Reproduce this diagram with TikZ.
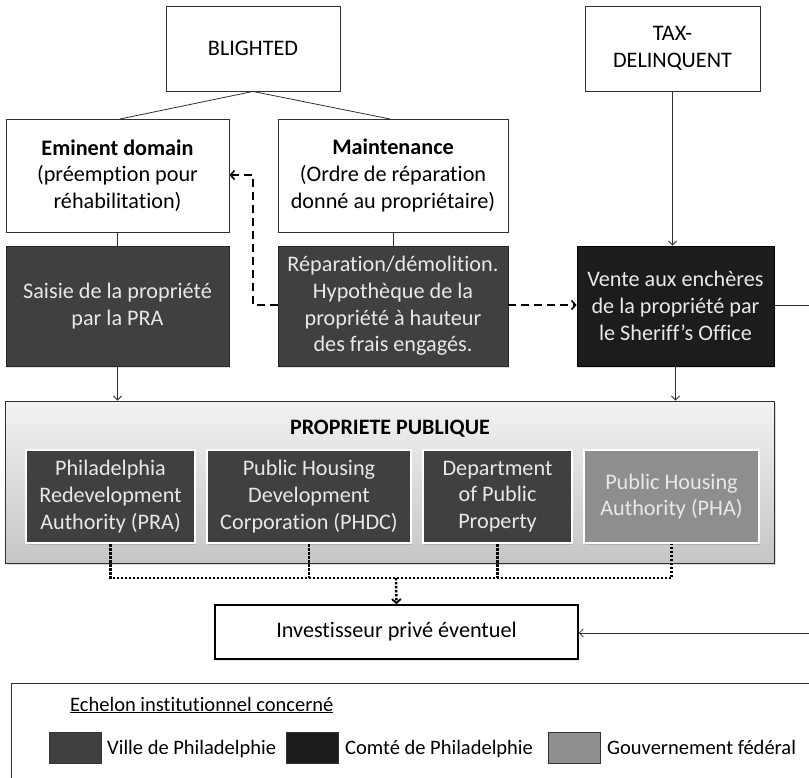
\documentclass[tikz,border=0pt]{standalone}
\usepackage{fontspec}
\setmainfont{Carlito}[Ligatures=NoCommon]
\usetikzlibrary{arrows.meta,shadows}
\definecolor{cityc}{HTML}{404040}
\definecolor{countyc}{HTML}{1C1C1C}
\definecolor{fedc}{HTML}{8E8E8E}
\definecolor{lightt}{HTML}{E8E8E8}
\definecolor{linec}{HTML}{303030}
\tikzset{
  base/.style={rectangle, align=center, inner sep=2pt, font=\fontsize{22.2}{26.7}\selectfont},
  whitebox/.style={base, draw=linec, line width=0.9pt, fill=white, text=black,
    drop shadow={opacity=0.25, shadow xshift=1.2pt, shadow yshift=-1.5pt}},
  citybox/.style={base, draw=black!85, line width=0.9pt, fill=cityc, text=lightt,
    drop shadow={opacity=0.25, shadow xshift=1.2pt, shadow yshift=-1.5pt}},
  countybox/.style={base, draw=black, line width=0.9pt, fill=countyc, text=lightt,
    drop shadow={opacity=0.25, shadow xshift=1.2pt, shadow yshift=-1.5pt}},
  innerbox/.style={base, draw=white, line width=2.2pt, text=lightt,
    drop shadow={opacity=0.35, shadow xshift=1.2pt, shadow yshift=-1.5pt}},
  thin/.style={draw=linec, line width=0.8pt},
  thinarrow/.style={thin, -{Straight Barb[length=4pt,width=8pt]}},
  dasharrow/.style={draw=black, line width=2pt, dash pattern=on 8pt off 5pt,
    -{Straight Barb[length=4pt,width=9pt,line width=1.6pt]}},
  dotline/.style={draw=black, line width=2.4pt, dash pattern=on 2.4pt off 1.6pt},
  swatch/.style={rectangle, draw=black!80, line width=0.8pt, minimum width=52pt, minimum height=31pt, inner sep=0pt},
  legtext/.style={anchor=base west, inner sep=0pt, font=\fontsize{20.5}{24}\selectfont, text=black}
}
\begin{document}
\begin{tikzpicture}[x=1pt,y=-1pt]
\useasboundingbox (0,0) rectangle (809,778);
\clip (0,0) rectangle (809,778);
\fill[white] (0,0) rectangle (809,778);

% top level
\node[whitebox, minimum width=174pt, minimum height=85pt] (blighted) at (253,48.5) {BLIGHTED};
\node[whitebox, minimum width=175pt, minimum height=85pt] (tax) at (672.5,48.5) {TAX-\\DELINQUENT};

% second level
\node[whitebox, minimum width=223pt, minimum height=113pt] (eminent) at (117.5,175.5)
  {\textbf{Eminent domain}\\(préemption pour\\réhabilitation)};
\node[whitebox, minimum width=230pt, minimum height=113pt] (maint) at (393,175.5)
  {\textbf{Maintenance}\\(Ordre de réparation\\donné au propriétaire)};

% third level
\node[citybox, minimum width=223pt, minimum height=120pt] (saisie) at (117.5,306)
  {Saisie de la propriété\\par la PRA};
\node[citybox, minimum width=230pt, minimum height=120pt] (repar) at (393,306)
  {Réparation/démolition.\\Hypothèque de la\\propriété à hauteur\\des frais engagés.};
\node[countybox, minimum width=197pt, minimum height=120pt] (vente) at (675.5,306)
  {Vente aux enchères\\de la propriété par\\le Sheriff’s Office};

% public property container
\node[rectangle, draw=linec, line width=0.9pt, top color=gray!10, bottom color=gray!45,
  minimum width=769pt, minimum height=162pt, inner sep=0pt,
  drop shadow={opacity=0.3, shadow xshift=1.5pt, shadow yshift=-2pt}] (pp) at (389.5,482) {};
\node[base, font=\bfseries\fontsize{22}{26}\selectfont, inner sep=0pt] (pptitle) at (390,429) {PROPRIETE PUBLIQUE};

\node[innerbox, fill=cityc, minimum width=169pt, minimum height=93pt] (pra) at (110.5,496.5)
  {Philadelphia\\Redevelopment\\Authority (PRA)};
\node[innerbox, fill=cityc, minimum width=204pt, minimum height=93pt] (phdc) at (309,496.5)
  {Public Housing\\Development\\Corporation (PHDC)};
\node[innerbox, fill=cityc, minimum width=149pt, minimum height=93pt] (dpp) at (497.5,496.5)
  {Department\\of Public\\Property};
\node[innerbox, fill=fedc, minimum width=175pt, minimum height=93pt] (pha) at (671.5,496.5)
  {Public Housing\\Authority (PHA)};

% investor
\node[base, draw=black, line width=1.6pt, fill=white, minimum width=363pt, minimum height=54pt,
  drop shadow={opacity=0.2, shadow xshift=1pt, shadow yshift=-1.5pt}] (inv) at (396.5,632)
  {Investisseur privé éventuel};

% connectors
\draw[thin] (blighted.south) -- (120,119);
\draw[thin] (blighted.south) -- (390,119);
\draw[thin] (eminent.south) -- (saisie.north);
\draw[thin] (maint.south) -- (repar.north);
\draw[thinarrow] (tax.south) -- (tax.south |- vente.north);
\draw[thinarrow] (saisie.south) -- (saisie.south |- pp.north);
\draw[thinarrow] (vente.south) -- (vente.south |- pp.north);

\coordinate (dcorner) at (253,305);
\draw[dasharrow] (repar.west |- dcorner) -- (dcorner) -- (253,175) -- (eminent.east |- 0,175);
\draw[dasharrow] (repar.east |- dcorner) -- (vente.west |- dcorner);

\coordinate (rcorner1) at (830,305);
\coordinate (rcorner2) at (830,633);
\draw[thinarrow] (vente.east |- rcorner1) -- (rcorner1) -- (rcorner2) -- (inv.east |- rcorner2);

\coordinate (bar) at (396,578);
\draw[dotline] (pra.south) -- (pra.south |- bar) -- (pha.south |- bar) -- (pha.south);
\draw[dotline] (phdc.south) -- (phdc.south |- bar);
\draw[dotline] (dpp.south) -- (dpp.south |- bar);
\draw[dotline, -{Straight Barb[length=4pt,width=9pt,line width=1.8pt]}] (bar) -- (inv.north);

% legend
\node[rectangle, draw=linec, line width=0.8pt, minimum width=830pt, minimum height=130pt, anchor=north west, inner sep=0pt] (legend) at (11,683) {};
\node[legtext] (legtitle) at (70,711) {\underline{Echelon institutionnel concerné}};
\node[swatch, fill=cityc] (sw1) at (75,747.5) {};
\node[legtext] (lt1) at (107,754) {Ville de Philadelphie};
\node[swatch, fill=countyc] (sw2) at (312,747.5) {};
\node[legtext] (lt2) at (345,754) {Comté de Philadelphie};
\node[swatch, fill=fedc] (sw3) at (574.5,747.5) {};
\node[legtext] (lt3) at (607,754) {Gouvernement fédéral};
\end{tikzpicture}
\end{document}
